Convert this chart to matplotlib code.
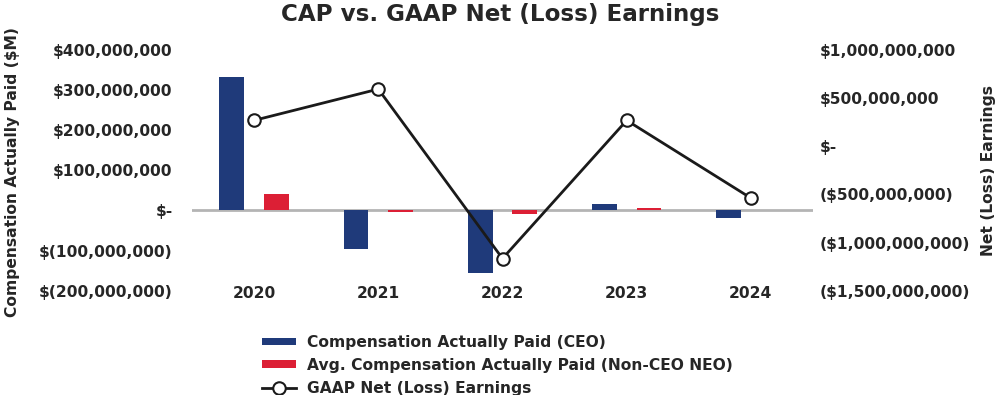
import matplotlib
matplotlib.use("Agg")
import matplotlib.pyplot as plt
import numpy as np
from matplotlib.ticker import FuncFormatter

years = ["2020", "2021", "2022", "2023", "2024"]
cap_ceo = [333e6, -95e6, -156e6, 16e6, -18e6]
cap_non_ceo = [40e6, -5e6, -10e6, 6e6, 0.0]
gaap_net = [269e6, 594e6, -1166e6, 269e6, -538e6]

left_ticks = [-200e6, -100e6, 0, 100e6, 200e6, 300e6, 400e6]
right_ticks = [-1.5e9, -1e9, -0.5e9, 0, 0.5e9, 1e9]

BLUE = "#1f3a7a"
RED = "#dc1f35"
GRAY = "#b4b4b4"
TXT = "#262626"
FS = 11.2

plt.rcParams['font.family'] = ['DejaVu Sans']
plt.rcParams['font.weight'] = 'bold'

fig = plt.figure(figsize=(10.01, 3.95), dpi=100)
ax = fig.add_axes([192/1001, 1-290.7/395, (813-192)/1001, (290.7-50)/395])
ax2 = ax.twinx()

x = np.arange(len(years))
w = 0.2
off = 0.18
b1 = ax.bar(x - off, cap_ceo, w, color=BLUE, zorder=2)
b2 = ax.bar(x + off, cap_non_ceo, w, color=RED, zorder=2)
ax.axhline(0, color=GRAY, lw=2, zorder=1)
ax.set_xlim(-0.5, 4.5)
ax.set_ylim(-200e6, 400e6)
ax.set_yticks(left_ticks)

def lfmt(v, p):
    if v == 0:
        return "$-"
    if v < 0:
        return "$({:,.0f})".format(-v)
    return "${:,.0f}".format(v)

def rfmt(v, p):
    if v == 0:
        return "$-"
    if v < 0:
        return "(${:,.0f})".format(-v)
    return "${:,.0f}".format(v)

ax.yaxis.set_major_formatter(FuncFormatter(lfmt))
ax.set_xticks(x)
ax.set_xticklabels(years)

ln, = ax2.plot(x, gaap_net, color="#1a1a1a", lw=2, marker="o", markersize=9,
               markerfacecolor="white", markeredgecolor="#1a1a1a", markeredgewidth=1.5, zorder=3)
ax2.set_ylim(-1.5e9, 1.0e9)
ax2.set_yticks(right_ticks)
ax2.yaxis.set_major_formatter(FuncFormatter(rfmt))

for a in (ax, ax2):
    for s in a.spines.values():
        s.set_visible(False)
    a.tick_params(length=0, labelsize=FS, labelcolor=TXT)
ax.tick_params(axis='y', pad=14)
ax2.tick_params(axis='y', pad=5)
ax.tick_params(axis='x', pad=2)
for t in ax.get_xticklabels():
    t.set_va('center')
    t.set_fontsize(FS)

fig.text(0.5, 1-15/395, "CAP vs. GAAP Net (Loss) Earnings", ha="center", va="center",
         fontsize=16.6, fontweight="heavy", color=TXT)
fig.text(13/1001, 1-172/395, "Compensation Actually Paid ($M)", rotation=90, ha="center",
         va="center", fontsize=FS, fontweight="bold", color=TXT)
fig.text(988/1001, 1-170/395, "Net (Loss) Earnings", rotation=90, ha="center",
         va="center", fontsize=FS, fontweight="bold", color=TXT)

leg = fig.legend([b1, b2, ln],
                 ["Compensation Actually Paid (CEO)",
                  "Avg. Compensation Actually Paid (Non-CEO NEO)",
                  "GAAP Net (Loss) Earnings"],
                 loc="upper left", bbox_to_anchor=(262/1001, 1-335/395), frameon=False,
                 fontsize=FS, handlelength=2.2, handleheight=0.38, handletextpad=0.7,
                 labelspacing=0.5, borderaxespad=0, borderpad=0)
for t in leg.get_texts():
    t.set_color(TXT)

fig.savefig("out.png", dpi=100)
